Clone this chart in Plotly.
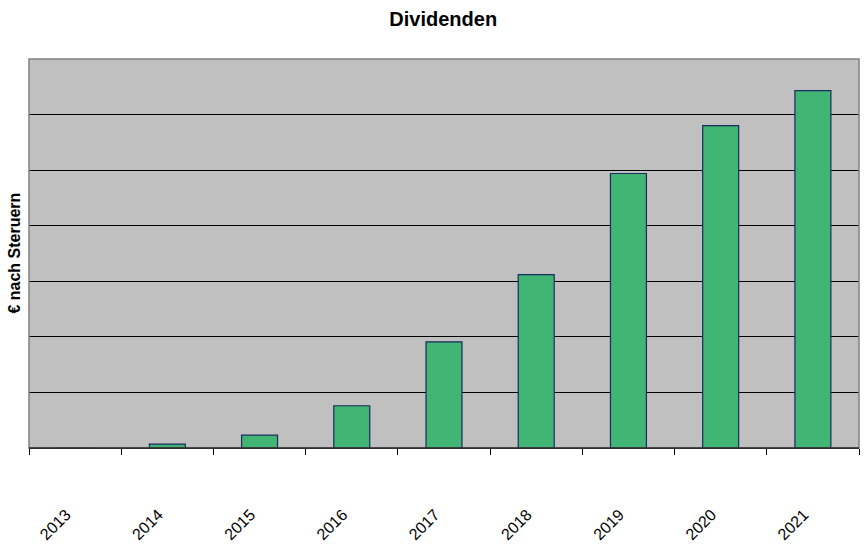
import plotly.graph_objects as go

years = ["2013", "2014", "2015", "2016", "2017", "2018", "2019", "2020", "2021"]
dividends = [0.0, 0.07, 0.23, 0.76, 1.91, 3.12, 4.94, 5.80, 6.43]

fig = go.Figure()
fig.add_trace(go.Bar(
    x=years, y=dividends,
    marker=dict(color="#41B574", line=dict(color="#1A2A5E", width=1.2)),
    width=0.39,
))

fig.update_layout(
    width=864, height=557,
    margin=dict(l=29, r=5, t=59, b=109, autoexpand=False),
    paper_bgcolor="white",
    plot_bgcolor="#C0C0C0",
    showlegend=False,
    font=dict(family="Liberation Sans, Arial, sans-serif", color="black"),
    title=dict(text="<b>Dividenden</b>", x=0.513, xanchor="center", y=0.966, yanchor="middle",
               font=dict(size=20, color="black")),
    bargap=0.61,
)
fig.update_xaxes(
    type="category",
    tickson="boundaries",
    ticks="outside", ticklen=6, tickcolor="black", tickwidth=1,
    showline=True, linecolor="black", linewidth=1,
    showgrid=False,
    tickangle=-45,
    tickfont=dict(size=16, color="black"),
    ticklabelstandoff=50,
    ticklabelshift=-9,
    automargin=False,
)
fig.update_yaxes(
    range=[0, 7],
    tickvals=[1, 2, 3, 4, 5, 6],
    showticklabels=False,
    showgrid=True, gridcolor="black", gridwidth=1,
    zeroline=False,
    showline=False,
    ticks="",
    automargin=False,
)
fig.add_shape(type="rect", xref="paper", yref="paper", x0=0, x1=1, y0=0, y1=1,
              line=dict(color="#808080", width=1.5), layer="above")
fig.add_shape(type="line", xref="paper", yref="paper", x0=0, x1=1, y0=0, y1=0,
              line=dict(color="black", width=1), layer="above")
fig.add_annotation(text="<b>€ nach Steruern</b>", xref="paper", yref="paper",
                   x=-0.018, y=0.50, xanchor="center", yanchor="middle", textangle=-90,
                   showarrow=False, font=dict(size=16, color="black"))

fig.write_html("out.html", config={"displayModeBar": False},
               post_script="document.body.style.margin='0';")
